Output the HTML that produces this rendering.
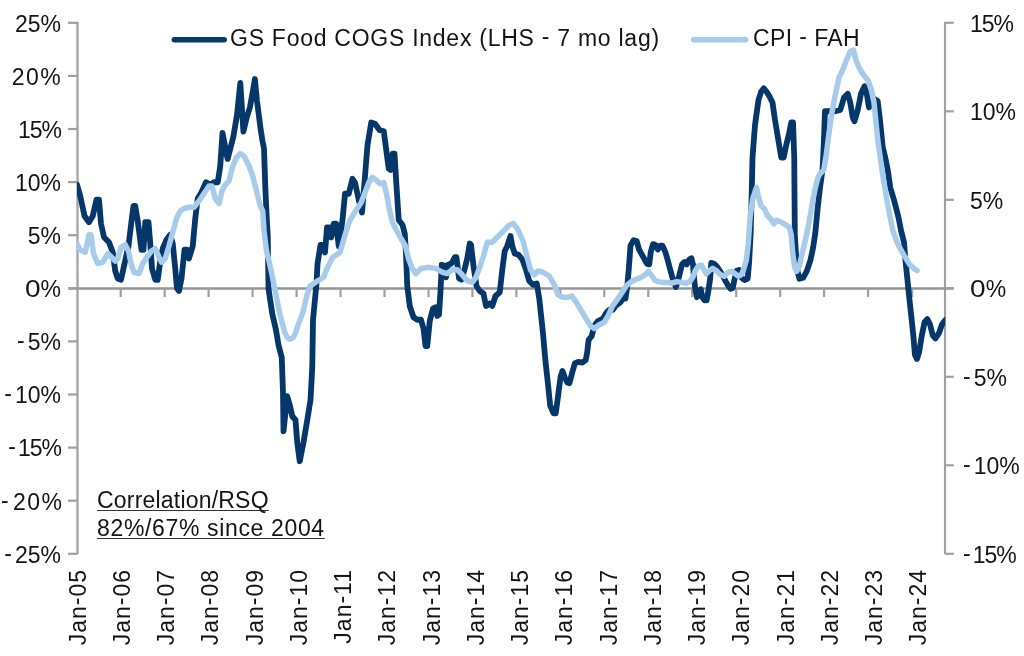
<!DOCTYPE html><html><head><meta charset="utf-8"><title>Chart</title><style>
html,body{margin:0;padding:0;background:#fff}
#c{position:relative;width:1024px;height:656px;overflow:hidden;background:#fff;font-family:"Liberation Sans",sans-serif;color:#141414}
.l{position:absolute;font-size:23px;line-height:24px;white-space:nowrap;will-change:transform}
.yl{text-align:right;width:61px;left:0}
.yr{text-align:left;left:969.7px}
.yr.n{left:963px}
.m{position:relative;top:-2.3px}
.m2{margin-right:3px}
.z{display:inline-block;transform:scaleX(1.22);transform-origin:0 50%;margin-right:3px}
.xl{transform-origin:0 0;transform:rotate(-90deg);width:80px;text-align:right;letter-spacing:1px}
.u{text-decoration:underline;text-decoration-thickness:1.4px;text-underline-offset:1.8px;text-decoration-color:#333;text-decoration-skip-ink:none}

</style></head><body><div id="c">
<svg width="1024" height="656" viewBox="0 0 1024 656" style="position:absolute;left:0;top:0">
<g stroke="#a0a0a0" stroke-width="2.2" fill="none">
<line x1="77.5" y1="22" x2="77.5" y2="554"/>
<line x1="945" y1="22" x2="945" y2="554" stroke-width="2.1"/>
<line x1="68.8" y1="288.5" x2="953.6" y2="288.5" stroke-width="2.6" stroke="#969696"/>
<line x1="68" y1="22.8" x2="77.5" y2="22.8"/>
<line x1="68" y1="75.9" x2="77.5" y2="75.9"/>
<line x1="68" y1="129.0" x2="77.5" y2="129.0"/>
<line x1="68" y1="182.1" x2="77.5" y2="182.1"/>
<line x1="68" y1="235.2" x2="77.5" y2="235.2"/>
<line x1="68" y1="288.3" x2="77.5" y2="288.3"/>
<line x1="68" y1="341.4" x2="77.5" y2="341.4"/>
<line x1="68" y1="394.5" x2="77.5" y2="394.5"/>
<line x1="68" y1="447.6" x2="77.5" y2="447.6"/>
<line x1="68" y1="500.7" x2="77.5" y2="500.7"/>
<line x1="68" y1="553.8" x2="77.5" y2="553.8"/>
<line x1="945" y1="22.8" x2="953.8" y2="22.8"/>
<line x1="945" y1="111.3" x2="953.8" y2="111.3"/>
<line x1="945" y1="199.8" x2="953.8" y2="199.8"/>
<line x1="945" y1="288.3" x2="953.8" y2="288.3"/>
<line x1="945" y1="376.8" x2="953.8" y2="376.8"/>
<line x1="945" y1="465.3" x2="953.8" y2="465.3"/>
<line x1="945" y1="553.8" x2="953.8" y2="553.8"/>
<line x1="120.7" y1="288.5" x2="120.7" y2="297"/>
<line x1="164.7" y1="288.5" x2="164.7" y2="297"/>
<line x1="208.6" y1="288.5" x2="208.6" y2="297"/>
<line x1="252.6" y1="288.5" x2="252.6" y2="297"/>
<line x1="296.6" y1="288.5" x2="296.6" y2="297"/>
<line x1="340.5" y1="288.5" x2="340.5" y2="297"/>
<line x1="384.5" y1="288.5" x2="384.5" y2="297"/>
<line x1="428.5" y1="288.5" x2="428.5" y2="297"/>
<line x1="472.4" y1="288.5" x2="472.4" y2="297"/>
<line x1="516.4" y1="288.5" x2="516.4" y2="297"/>
<line x1="560.3" y1="288.5" x2="560.3" y2="297"/>
<line x1="604.3" y1="288.5" x2="604.3" y2="297"/>
<line x1="648.3" y1="288.5" x2="648.3" y2="297"/>
<line x1="692.2" y1="288.5" x2="692.2" y2="297"/>
<line x1="736.2" y1="288.5" x2="736.2" y2="297"/>
<line x1="780.2" y1="288.5" x2="780.2" y2="297"/>
<line x1="824.1" y1="288.5" x2="824.1" y2="297"/>
<line x1="868.1" y1="288.5" x2="868.1" y2="297"/>
<line x1="912.1" y1="288.5" x2="912.1" y2="297"/>
</g>
<defs><clipPath id="cp"><rect x="77" y="0" width="868.2" height="656"/></clipPath></defs>
<polyline points="77.00,184.75 80.25,196.00 84.50,216.00 89.00,222.25 92.75,216.00 96.50,199.75 99.00,199.75 101.00,223.50 104.00,237.25 109.00,242.25 112.75,252.25 115.25,271.00 117.75,278.50 121.00,279.75 124.00,266.00 128.50,246.00 131.50,221.00 133.50,206.00 135.25,206.00 137.75,221.00 141.50,249.75 143.50,249.75 145.25,222.25 148.50,222.25 150.25,243.50 152.00,268.50 155.25,279.75 157.75,279.75 160.25,261.00 162.75,248.50 166.50,239.75 170.25,234.75 172.75,243.50 175.25,268.50 177.00,288.50 179.00,291.00 181.50,278.50 184.50,249.75 187.00,249.75 189.00,258.50 192.75,246.00 195.25,218.50 197.75,198.50 201.50,192.25 206.00,182.25 210.25,184.75 214.00,182.25 217.75,182.25 220.25,166.00 222.50,133.00 227.60,159.00 233.30,137.00 237.00,115.00 240.30,83.00 241.90,108.00 243.40,131.50 246.60,118.00 250.00,107.00 252.80,91.50 254.90,79.00 257.00,101.00 260.60,129.00 262.50,141.00 264.00,148.50 265.25,186.00 266.50,213.50 267.75,236.00 268.50,288.75 272.25,313.75 276.00,330.00 278.50,345.00 281.75,357.50 283.00,392.50 283.50,431.25 287.25,396.25 289.75,405.00 292.25,416.25 295.50,420.00 297.25,442.50 299.75,461.25 303.50,442.50 307.25,420.00 310.50,400.00 312.25,367.50 313.00,320.00 315.40,295.00 316.60,282.50 317.50,264.00 320.50,245.00 323.75,245.00 325.00,252.50 327.00,227.50 329.50,227.50 331.25,237.50 333.75,223.75 336.25,223.75 338.75,246.25 342.50,220.00 345.00,193.75 348.75,193.75 352.50,178.75 355.00,182.50 358.75,200.00 362.00,212.50 364.50,182.50 367.50,145.00 371.25,122.50 375.00,123.75 379.50,130.00 383.75,131.25 386.25,150.00 388.75,168.75 390.50,170.00 392.50,153.75 394.50,153.75 396.25,182.50 398.75,220.00 402.50,225.00 404.75,233.50 406.00,253.50 407.25,286.00 409.75,306.00 413.50,317.25 417.25,319.75 421.00,319.75 423.50,328.50 425.50,346.00 427.25,346.00 429.75,321.00 433.00,308.50 435.50,307.25 437.25,316.00 439.00,314.75 440.50,291.00 441.75,264.75 444.75,266.00 446.00,277.25 448.00,264.75 451.50,263.50 454.75,257.25 456.50,257.25 459.00,278.50 461.50,279.75 464.75,268.50 467.25,258.50 469.75,243.50 471.00,244.75 473.50,266.00 476.50,286.00 479.75,291.00 483.50,293.50 486.00,306.00 489.75,303.50 492.25,306.00 495.50,296.00 499.75,292.25 502.25,270.00 504.75,251.00 507.25,246.00 510.50,236.00 512.25,246.00 514.75,253.50 518.50,254.75 522.50,259.75 526.00,269.75 529.25,281.00 533.00,284.75 536.75,283.50 539.25,298.50 543.00,333.50 545.40,360.60 548.10,385.30 550.20,405.80 553.60,413.40 555.70,413.40 557.70,399.00 560.50,377.00 562.50,370.90 564.60,377.00 567.30,382.50 569.40,383.20 572.10,372.90 574.90,363.30 578.30,361.90 582.40,362.60 585.80,359.90 587.20,352.30 588.60,340.00 591.75,336.00 594.25,326.00 598.00,321.00 603.00,318.50 606.75,312.25 609.25,309.75 613.00,309.75 615.50,306.00 620.50,302.25 623.50,297.25 625.50,298.50 627.30,286.30 628.90,267.60 630.50,245.70 633.60,240.20 636.70,241.00 639.10,249.60 643.00,256.60 646.90,263.70 649.20,264.40 650.80,251.90 653.10,244.10 655.50,244.90 657.80,249.60 660.20,245.70 662.50,245.70 665.60,252.70 668.00,261.30 670.30,269.90 672.70,278.50 675.80,287.10 677.30,283.20 679.70,273.80 682.00,264.40 684.40,262.10 686.70,264.40 689.10,259.75 691.40,258.20 693.00,264.40 693.75,275.40 695.30,289.40 696.90,297.25 698.75,291.00 700.80,289.40 702.30,297.25 704.70,300.40 706.60,300.40 708.60,289.40 710.20,278.50 711.25,262.90 714.00,263.70 717.20,266.80 720.30,271.50 723.40,276.90 725.80,281.60 728.10,285.50 730.50,288.70 732.80,287.90 734.40,280.00 736.70,270.70 739.10,269.90 741.40,277.70 744.50,280.00 747.70,278.50 749.10,262.30 750.60,234.80 751.60,198.00 752.50,157.50 755.00,125.00 758.50,100.00 761.00,92.00 763.80,88.30 766.80,92.00 769.50,96.50 772.50,102.50 775.00,120.00 778.75,142.50 781.25,157.50 783.75,157.50 786.25,145.00 788.75,135.00 791.25,122.50 793.00,122.50 794.25,157.50 794.80,234.80 796.30,258.60 797.60,271.40 799.40,278.70 803.10,277.80 806.70,271.40 810.40,260.40 813.10,247.60 815.30,233.00 817.50,210.00 820.00,187.50 822.50,170.00 823.75,145.00 825.00,111.25 828.75,111.25 835.25,111.25 840.25,110.00 844.00,97.50 847.75,93.75 850.25,102.50 852.75,117.50 854.50,121.25 857.75,110.00 861.00,93.75 864.50,86.25 867.00,95.00 869.00,107.50 871.50,102.50 874.00,98.75 877.75,101.25 880.25,122.50 882.75,147.50 885.25,157.50 887.75,170.00 890.25,187.50 894.00,200.00 898.50,217.50 901.20,231.20 904.00,242.20 905.30,258.70 907.25,277.90 909.50,299.90 911.60,319.10 913.60,338.40 914.90,354.80 916.90,359.00 919.10,352.10 921.80,335.60 924.60,321.90 927.30,319.10 930.10,324.60 932.80,335.60 935.50,338.40 939.10,332.90 941.90,324.60 943.80,321.90 946.00,319.50" clip-path="url(#cp)" fill="none" stroke="#06376b" stroke-width="5.8" stroke-linejoin="round" stroke-linecap="round"/>
<polyline points="77.00,243.50 80.25,249.75 85.25,252.25 89.00,234.75 91.00,234.75 93.50,253.50 97.75,263.50 102.75,262.25 107.75,253.50 111.50,257.25 115.25,261.00 117.75,258.50 121.00,247.25 125.25,244.75 128.50,251.00 131.00,263.50 134.00,272.25 139.00,273.50 142.75,263.50 147.75,256.00 151.50,251.00 155.25,248.50 158.50,256.00 161.50,262.25 165.25,258.50 169.00,246.00 172.75,232.25 176.50,218.50 180.25,211.00 184.00,208.50 189.00,207.25 194.00,207.25 199.00,201.00 204.00,193.50 209.00,186.00 212.00,186.00 215.25,198.50 219.00,203.50 222.00,191.00 225.25,184.75 229.00,181.00 232.00,168.50 236.50,157.25 240.25,153.50 244.00,156.00 249.00,166.00 252.75,176.00 256.50,191.00 260.25,206.00 262.75,211.00 264.00,231.00 266.50,251.00 269.00,261.00 271.00,270.00 274.75,288.75 279.75,313.75 284.75,332.50 287.25,337.30 289.75,339.20 292.90,338.00 295.40,333.50 298.50,323.75 302.90,312.50 306.00,298.75 309.75,286.25 316.00,281.90 323.50,277.50 327.25,268.00 332.50,257.50 340.00,252.50 345.00,235.00 350.00,220.00 356.25,210.00 361.25,202.50 365.00,192.50 368.75,182.50 372.50,177.50 376.25,180.00 380.00,183.75 383.75,182.50 386.25,192.50 389.50,210.00 392.50,222.50 396.25,230.00 401.00,238.50 405.50,246.00 408.50,258.50 412.25,268.50 416.00,273.50 421.00,268.50 428.50,267.25 436.00,268.50 442.25,272.25 447.25,273.50 452.25,269.75 457.25,269.75 462.25,274.75 467.25,281.00 472.25,282.25 476.00,277.25 479.75,267.25 483.50,256.00 487.25,242.25 492.25,242.25 498.50,236.00 504.75,229.75 509.75,224.75 513.50,223.50 518.00,229.75 523.00,241.00 526.75,256.00 530.50,269.75 534.25,274.75 538.00,271.00 543.00,272.25 549.25,276.00 554.25,284.75 558.00,294.75 563.00,297.25 568.00,297.25 571.75,296.00 575.50,301.00 579.25,307.25 583.00,313.50 586.75,319.75 590.50,326.00 594.25,328.50 599.25,324.75 604.25,322.25 608.00,316.00 612.50,306.00 617.20,299.60 621.90,292.60 626.60,285.50 631.25,281.60 635.90,279.30 640.60,277.70 645.30,274.60 648.40,271.50 651.60,275.40 654.70,280.00 657.80,281.60 662.50,282.40 667.20,282.40 671.90,283.20 676.60,281.60 681.25,282.40 685.90,283.20 689.80,281.60 693.00,276.90 695.30,270.70 698.40,266.00 701.60,265.20 703.90,269.90 706.25,273.80 709.40,270.70 712.50,268.30 716.40,270.70 720.30,274.60 724.20,276.20 728.10,272.25 732.00,271.50 735.20,273.80 738.30,276.20 741.40,274.60 743.75,269.10 746.40,260.00 748.20,244.00 750.10,216.60 752.80,198.30 756.50,187.30 758.30,196.50 761.00,205.60 764.70,209.25 767.40,215.60 771.10,219.30 773.80,223.90 776.60,220.20 781.10,222.00 785.70,224.80 789.40,227.50 791.20,234.80 792.70,253.10 794.80,267.75 796.70,271.40 799.40,265.90 802.20,253.10 804.90,242.20 807.70,229.40 810.40,214.70 813.10,198.30 815.90,185.50 818.00,177.50 820.00,173.75 823.75,170.00 826.25,155.00 828.75,135.00 831.50,115.00 835.25,95.00 839.00,77.50 842.75,70.00 846.50,60.00 850.25,51.25 853.50,50.00 856.00,60.00 859.00,67.50 862.75,73.75 867.75,80.00 871.50,90.00 874.00,102.50 876.00,122.50 877.75,140.00 880.25,157.50 882.75,175.00 885.25,190.00 887.50,203.70 890.20,217.50 893.00,231.20 897.10,242.20 901.20,250.40 905.30,257.30 909.50,264.20 913.60,268.30 917.10,270.50" clip-path="url(#cp)" fill="none" stroke="#a7cceb" stroke-width="5.5" stroke-linejoin="round" stroke-linecap="round"/>
<line x1="174.3" y1="39.7" x2="224.2" y2="39.7" stroke="#06376b" stroke-width="5.5" stroke-linecap="round"/>
<line x1="693.6" y1="39.7" x2="745.6" y2="39.7" stroke="#a7cceb" stroke-width="5.5" stroke-linecap="round"/>
</svg>
<div class="l yl" style="top:11.6px;letter-spacing:0px;left:0.0px">25%</div>
<div class="l yl" style="top:64.7px;letter-spacing:1.4px;left:1.4px">20%</div>
<div class="l yl" style="top:117.8px;letter-spacing:-1px;left:-0.5px">15%</div>
<div class="l yl" style="top:170.9px;letter-spacing:0px;left:0.0px">10%</div>
<div class="l yl" style="top:224.0px;letter-spacing:0px;left:0.0px">5%</div>
<div class="l yl" style="top:277.1px;letter-spacing:0px;left:0.0px"><span class="z">0</span>%</div>
<div class="l yl" style="top:330.2px;letter-spacing:0px;left:0.0px"><span class="m m2">-</span>5%</div>
<div class="l yl" style="top:383.3px;letter-spacing:0px;left:0.0px"><span class="m m2">-</span>10%</div>
<div class="l yl" style="top:436.4px;letter-spacing:-1px;left:-0.5px"><span class="m m2">-</span>15%</div>
<div class="l yl" style="top:489.5px;letter-spacing:1.4px;left:1.4px"><span class="m m2">-</span>20%</div>
<div class="l yl" style="top:542.6px;letter-spacing:0px;left:0.0px"><span class="m m2">-</span>25%</div>
<div class="l yr" style="top:11.6px;letter-spacing:-1px">15%</div>
<div class="l yr" style="top:100.1px;letter-spacing:0px">10%</div>
<div class="l yr" style="top:188.6px;letter-spacing:0px">5%</div>
<div class="l yr" style="top:277.1px;letter-spacing:0px"><span class="z">0</span>%</div>
<div class="l yr n" style="top:365.6px;letter-spacing:0px"><span class="m m2">-</span>5%</div>
<div class="l yr n" style="top:454.1px;letter-spacing:0px"><span class="m m2">-</span>10%</div>
<div class="l yr n" style="top:542.6px;letter-spacing:-1px"><span class="m m2">-</span>15%</div>
<div class="l xl" style="left:65.7px;top:649px">Jan<span class="m">-</span>05</div>
<div class="l xl" style="left:109.9px;top:649px">Jan<span class="m">-</span>06</div>
<div class="l xl" style="left:154.2px;top:649px">Jan<span class="m">-</span>07</div>
<div class="l xl" style="left:198.4px;top:649px">Jan<span class="m">-</span>08</div>
<div class="l xl" style="left:242.7px;top:649px">Jan<span class="m">-</span>09</div>
<div class="l xl" style="left:286.9px;top:649px">Jan<span class="m">-</span>10</div>
<div class="l xl" style="left:331.1px;top:649px">Jan<span class="m">-</span>11</div>
<div class="l xl" style="left:375.4px;top:649px">Jan<span class="m">-</span>12</div>
<div class="l xl" style="left:419.6px;top:649px">Jan<span class="m">-</span>13</div>
<div class="l xl" style="left:463.9px;top:649px">Jan<span class="m">-</span>14</div>
<div class="l xl" style="left:508.1px;top:649px">Jan<span class="m">-</span>15</div>
<div class="l xl" style="left:552.3px;top:649px">Jan<span class="m">-</span>16</div>
<div class="l xl" style="left:596.6px;top:649px">Jan<span class="m">-</span>17</div>
<div class="l xl" style="left:640.8px;top:649px">Jan<span class="m">-</span>18</div>
<div class="l xl" style="left:685.1px;top:649px">Jan<span class="m">-</span>19</div>
<div class="l xl" style="left:729.3px;top:649px">Jan<span class="m">-</span>20</div>
<div class="l xl" style="left:773.5px;top:649px">Jan<span class="m">-</span>21</div>
<div class="l xl" style="left:817.8px;top:649px">Jan<span class="m">-</span>22</div>
<div class="l xl" style="left:862.0px;top:649px">Jan<span class="m">-</span>23</div>
<div class="l xl" style="left:906.3px;top:649px">Jan<span class="m">-</span>24</div>
<div class="l" style="left:230px;top:25.5px;letter-spacing:0.74px" id="lg1">GS Food COGS Index (LHS <span class="m">-</span> 7 mo lag)</div>
<div class="l" style="left:753px;top:25.5px;letter-spacing:0.39px" id="lg2">CPI <span class="m">-</span> FAH</div>
<div class="l u" style="left:97px;top:488px;letter-spacing:0.2px" id="n1">Correlation/RSQ</div>
<div class="l u" style="left:97px;top:516px;letter-spacing:0.65px" id="n2">82%/67% since 2004</div>
</div></body></html>
